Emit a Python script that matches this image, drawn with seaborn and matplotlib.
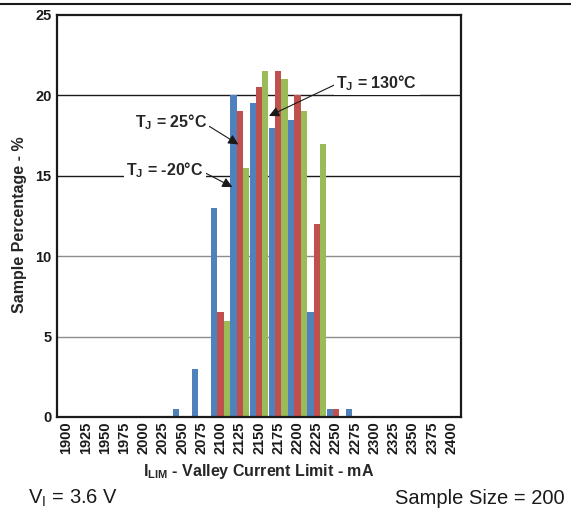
import numpy as np
import pandas as pd
import matplotlib
matplotlib.use("Agg")
import matplotlib.pyplot as plt
from matplotlib.lines import Line2D
import seaborn as sns

# ---- data ----
currents = ['1900', '1925', '1950', '1975', '2000', '2025', '2050', '2075', '2100', '2125',
            '2150', '2175', '2200', '2225', '2250', '2275', '2300', '2325', '2350', '2375', '2400']
tj_minus20 = [0, 0, 0, 0, 0, 0, 0.5, 3, 13, 20, 19.5, 18, 18.5, 6.5, 0.5, 0.5, 0, 0, 0, 0, 0]
tj_25 = [0, 0, 0, 0, 0, 0, 0, 0, 6.5, 19, 20.5, 21.5, 20, 12, 0.5, 0, 0, 0, 0, 0, 0]
tj_130 = [0, 0, 0, 0, 0, 0, 0, 0, 6, 15.5, 21.5, 21, 19, 17, 0, 0, 0, 0, 0, 0, 0]
series_names = ['-20', '25', '130']
colors = ['#4F81BD', '#C0504D', '#9BBB59']
y_ticks = [0, 5, 10, 15, 20, 25]

df = pd.DataFrame({
    'current': currents * 3,
    'pct': tj_minus20 + tj_25 + tj_130,
    'tj': sum([[n] * len(currents) for n in series_names], []),
})

sns.set_style("white")
plt.rcParams['font.family'] = ['Liberation Sans', 'DejaVu Sans']
plt.rcParams['mathtext.fontset'] = 'custom'
plt.rcParams['mathtext.rm'] = 'Liberation Sans'
plt.rcParams['mathtext.bf'] = 'Liberation Sans:bold'

fig = plt.figure(figsize=(5.71, 5.13), dpi=100)
ax = fig.add_axes([57 / 571, 1 - 417 / 513, 404 / 571, 402 / 513])

sns.barplot(data=df, x='current', y='pct', hue='tj', order=currents,
            hue_order=series_names, palette=colors, width=0.97,
            linewidth=0, saturation=1, legend=False, ax=ax, zorder=2)

ax.set_xlim(-0.5, len(currents) - 0.5)
ax.set_ylim(0, 25)
ax.set_yticks(y_ticks)
ax.set_yticklabels([str(v) for v in y_ticks], fontsize=10.5, fontweight='bold')
ax.set_xticks(range(len(currents)))
ax.set_xticklabels(currents, rotation=90, fontsize=10.5, fontweight='bold')
ax.tick_params(axis='both', length=0, colors='#1a1a1a')
ax.tick_params(axis='y', pad=4)
ax.tick_params(axis='x', pad=3)

# grid lines
grid_colors = {5: '#8c8c8c', 10: '#8c8c8c', 15: '#1a1a1a', 20: '#1a1a1a'}
for v, c in grid_colors.items():
    ax.axhline(v, color=c, lw=1.0, zorder=0.5)

for s in ax.spines.values():
    s.set_visible(True)
    s.set_color('#1a1a1a')
    s.set_linewidth(1.6)

ax.set_ylabel('Sample Percentage - %', fontsize=11.5, fontweight='bold')
ax.yaxis.set_label_coords(-0.074, 0.478)
ax.set_xlabel(r'I$_\mathregular{LIM}$ - Valley Current Limit - mA', fontsize=11.5,
              fontweight='bold')
ax.xaxis.set_label_coords(0.5, -0.112)

# annotations
ann_kw = dict(fontsize=11.5, fontweight='bold', ha='center', va='center',
              bbox=dict(boxstyle='square,pad=0.15', fc='white', ec='none'), zorder=5)
arrow = dict(arrowstyle='-|>', color='#1a1a1a', lw=0.8, mutation_scale=15,
             shrinkA=0, shrinkB=0)
ax.annotate(r'T$_\mathregular{J}$ = 25°C', xy=(8.93, 16.95), xytext=(5.42, 18.35),
            arrowprops=dict(arrow, relpos=(1.0, 0.35)), **ann_kw)
ax.annotate(r'T$_\mathregular{J}$ = -20°C', xy=(8.62, 14.3), xytext=(5.1, 15.36),
            arrowprops=dict(arrow, relpos=(1.0, 0.4)), **ann_kw)
ax.annotate(r'T$_\mathregular{J}$ = 130°C', xy=(10.52, 18.72), xytext=(16.13, 20.77),
            arrowprops=dict(arrow, relpos=(0.0, 0.45)), **ann_kw)

# footer texts
fig.text(28 / 571, 1 - 498 / 513, r'V$_\mathregular{I}$ = 3.6 V', fontsize=14.5,
         ha='left', va='center', color='#1a1a1a')
fig.text(565 / 571, 1 - 498 / 513, 'Sample Size = 200', fontsize=14.5,
         ha='right', va='center', color='#1a1a1a')

# top rule
fig.add_artist(Line2D([0, 1], [1 - 4 / 513] * 2, color='#1a1a1a', lw=1.5,
                      transform=fig.transFigure))

fig.savefig('out.png', dpi=100)
